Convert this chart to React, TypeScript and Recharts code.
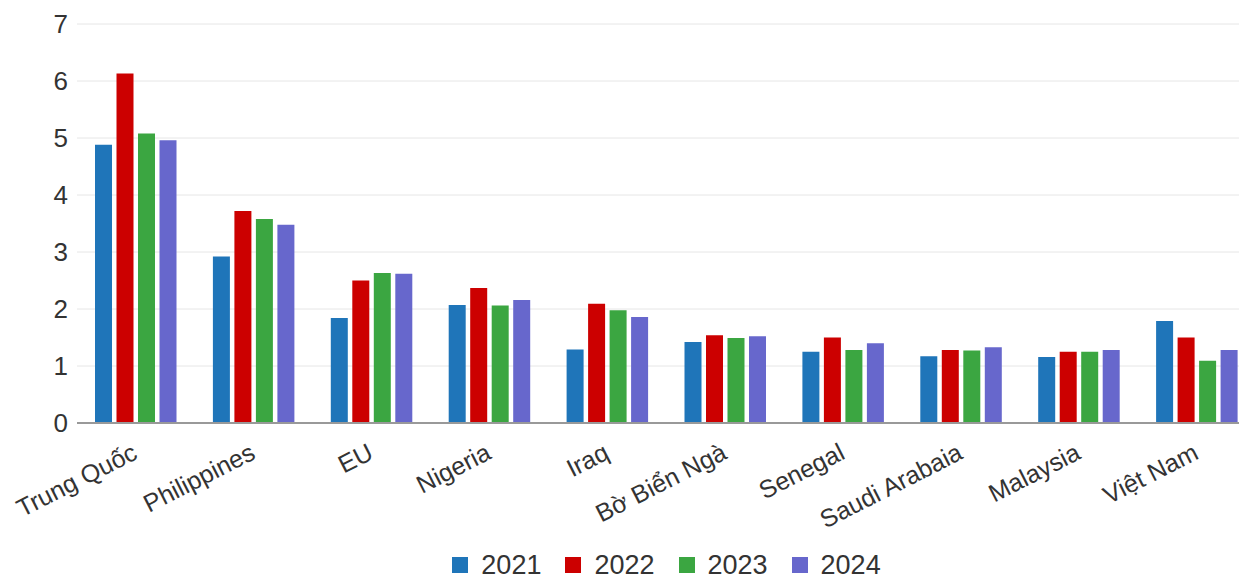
import React from "react";
import { BarChart, Bar, XAxis, YAxis, CartesianGrid, Legend } from "recharts";

const categories = [
  "Trung Quốc",
  "Philippines",
  "EU",
  "Nigeria",
  "Iraq",
  "Bờ Biển Ngà",
  "Senegal",
  "Saudi Arabaia",
  "Malaysia",
  "Việt Nam",
];
const v2021 = [4.88, 2.92, 1.84, 2.07, 1.29, 1.42, 1.25, 1.17, 1.16, 1.79];
const v2022 = [6.13, 3.72, 2.5, 2.37, 2.09, 1.54, 1.5, 1.28, 1.25, 1.5];
const v2023 = [5.08, 3.58, 2.63, 2.06, 1.98, 1.49, 1.28, 1.27, 1.25, 1.09];
const v2024 = [4.96, 3.48, 2.62, 2.16, 1.86, 1.52, 1.4, 1.33, 1.28, 1.28];
const yTicks = [0, 1, 2, 3, 4, 5, 6, 7];
const seriesNames = ["2021", "2022", "2023", "2024"];
const seriesColors = ["#1F75B9", "#CC0000", "#3BA641", "#6767CC"];

const data = categories.map((name, i) => ({
  name,
  "2021": v2021[i],
  "2022": v2022[i],
  "2023": v2023[i],
  "2024": v2024[i],
}));

const FONT = "'Liberation Sans', Arial, Helvetica, sans-serif";

const XTick = (props: any) => {
  const { x, y, payload } = props;
  return (
    <g transform={`translate(${x + 3},${y + 35})`}>
      <text
        textAnchor="end"
        transform="rotate(-27)"
        fontSize={25}
        fill="#333"
        fontFamily={FONT}
      >
        {payload.value}
      </text>
    </g>
  );
};

const LegendContent = () => (
  <div
    style={{
      display: "flex",
      justifyContent: "center",
      alignItems: "center",
      width: "100%",
      height: 26,
      paddingLeft: 77,
      boxSizing: "border-box",
      fontFamily: FONT,
    }}
  >
    {seriesNames.map((n, i) => (
      <div
        key={n}
        style={{
          display: "flex",
          alignItems: "center",
          marginRight: i < seriesNames.length - 1 ? 24 : 0,
        }}
      >
        <span
          style={{
            display: "inline-block",
            width: 16,
            height: 16,
            background: seriesColors[i],
            marginRight: 13,
          }}
        />
        <span style={{ fontSize: 27, lineHeight: "26px", color: "#333" }}>{n}</span>
      </div>
    ))}
  </div>
);

export default function App() {
  return (
    <div
      style={{
        position: "fixed",
        left: 0,
        top: 0,
        width: 1239,
        height: 581,
        overflow: "hidden",
        background: "#fff",
      }}
    >
      <BarChart
        width={1256}
        height={581}
        data={data}
        margin={{ top: 24, right: 0, bottom: 0, left: 0 }}
        barSize={17}
        barGap={4.5}
      >
        <CartesianGrid vertical={false} stroke="#e6e6e6" strokeWidth={1} />
        <XAxis
          dataKey="name"
          interval={0}
          height={132}
          tickSize={0}
          tickMargin={0}
          tickLine={false}
          axisLine={{ stroke: "#999", strokeWidth: 2 }}
          tick={<XTick />}
        />
        <YAxis
          domain={[0, 7]}
          ticks={yTicks}
          width={77}
          tickSize={0}
          tickMargin={9}
          axisLine={false}
          tickLine={false}
          tick={{ fontSize: 26, fill: "#333", fontFamily: FONT }}
        />
        <Legend
          verticalAlign="bottom"
          height={26}
          content={<LegendContent />}
          wrapperStyle={{ left: 0, width: 1256, top: 552, height: 26 }}
        />
        {seriesNames.map((n, i) => (
          <Bar
            key={n}
            dataKey={n}
            fill={seriesColors[i]}
            isAnimationActive={false}
          />
        ))}
      </BarChart>
    </div>
  );
}
